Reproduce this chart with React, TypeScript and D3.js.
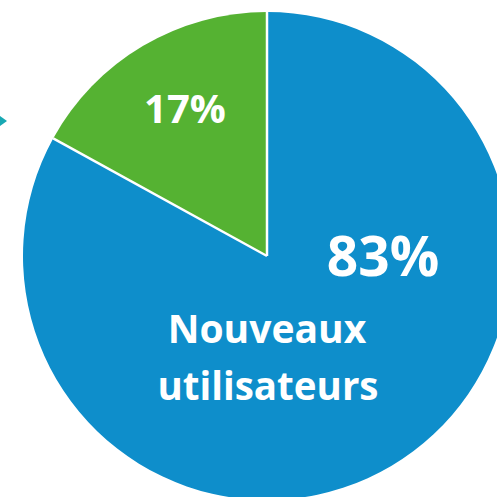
import React from "react";
import * as d3 from "d3";

const categories = ["Nouveaux utilisateurs", "Autres"];
const values = [83, 17];
const labels = ["83%", "17%"];
const colors = ["#0e8ecb", "#55b232"];

export default function App() {
  const W = 497, H = 497;
  const cx = 267, cy = 256, r = 244;
  const pie = d3.pie<number>().sort(null).startAngle(0).endAngle(2 * Math.PI);
  const arcs = pie(values);
  const arc = d3.arc<d3.PieArcDatum<number>>().innerRadius(0).outerRadius(r);
  const font = "'Open Sans', sans-serif";
  return (
    <svg width={W} height={H} style={{ position: "absolute", left: 0, top: 0, background: "#fff" }}>
      <g transform={`translate(${cx},${cy})`}>
        {arcs.map((a, i) => (
          <path key={categories[i]} d={arc(a) || ""} fill={colors[i]} />
        ))}
        {arcs.map((a, i) => {
          const x = Math.sin(a.startAngle) * r;
          const y = -Math.cos(a.startAngle) * r;
          return <line key={"s" + i} x1={0} y1={0} x2={x} y2={y} stroke="#fff" strokeWidth={2.5} />;
        })}
      </g>
      <polygon points="0,116 7,121 0,126" fill="#18a8b3" />
      <text x={185} y={123} textAnchor="middle" fill="#fff" fontFamily={font} fontWeight={700} fontSize={40}>
        {labels[1]}
      </text>
      <text x={383} y={276} textAnchor="middle" fill="#fff" fontFamily={font} fontWeight={700} fontSize={55}>
        {labels[0]}
      </text>
      <text x={267} y={343} textAnchor="middle" fill="#fff" fontFamily={font} fontWeight={700} fontSize={39}>
        Nouveaux
      </text>
      <text x={268} y={400} textAnchor="middle" fill="#fff" fontFamily={font} fontWeight={700} fontSize={38.5}>
        utilisateurs
      </text>
    </svg>
  );
}
